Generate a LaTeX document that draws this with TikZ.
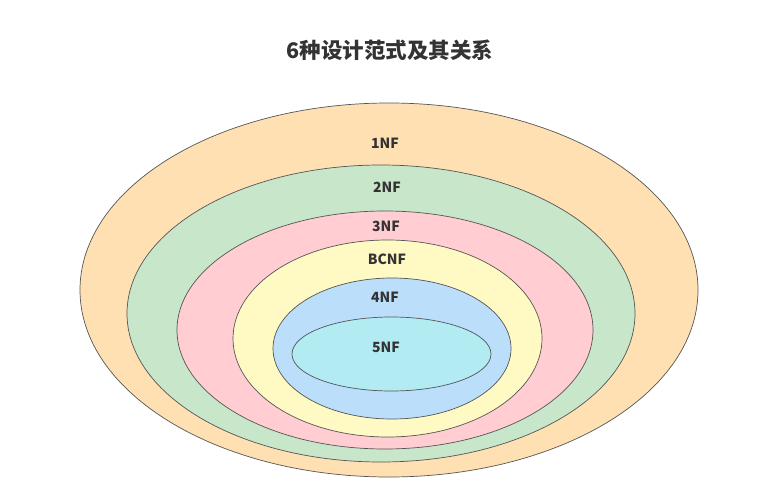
\documentclass[tikz,border=0pt]{standalone}
\usepackage{fontspec}
\setmainfont{Noto Sans CJK SC}
\usetikzlibrary{shapes.geometric}
\definecolor{cA}{HTML}{FFE0B2}
\definecolor{cB}{HTML}{C8E6C9}
\definecolor{cC}{HTML}{FFCDD2}
\definecolor{cD}{HTML}{FFF9C4}
\definecolor{cE}{HTML}{BBDEFB}
\definecolor{cF}{HTML}{B2EBF2}
\definecolor{edge}{HTML}{555555}
\definecolor{txt}{HTML}{333333}
\tikzset{
  ring/.style={ellipse, draw=edge, line width=0.7pt, inner sep=0pt, outer sep=0pt},
  lbl/.style={font=\fontsize{14}{16}\selectfont\bfseries, text=txt, inner sep=0pt},
  ttl/.style={font=\fontsize{21.5}{25}\selectfont\bfseries, text=txt, inner sep=0pt}
}
\begin{document}
\begin{tikzpicture}[x=1pt,y=-1pt]
\useasboundingbox (0,0) rectangle (762,492);
\node[ttl] (title) at (390,50) {6种设计范式及其关系};
\node[ring, fill=cA, minimum width=618pt, minimum height=374pt] (nf1) at (389,290) {};
\node[ring, fill=cB, minimum width=508pt, minimum height=297pt] (nf2) at (381,313.5) {};
\node[ring, fill=cC, minimum width=416pt, minimum height=238pt] (nf3) at (385,330) {};
\node[ring, fill=cD, minimum width=309pt, minimum height=197pt] (bcnf) at (387.5,338.5) {};
\node[ring, fill=cE, minimum width=238pt, minimum height=141pt] (nf4) at (392,348.5) {};
\node[ring, fill=cF, minimum width=199pt, minimum height=74pt] (nf5) at (391.5,354) {};
\node[lbl] (l1) at (385,143) {1NF};
\node[lbl] (l2) at (387,187) {2NF};
\node[lbl] (l3) at (386,226) {3NF};
\node[lbl] (l4) at (387,259) {BCNF};
\node[lbl] (l5) at (385,297) {4NF};
\node[lbl] (l6) at (386,347) {5NF};
\end{tikzpicture}
\end{document}
